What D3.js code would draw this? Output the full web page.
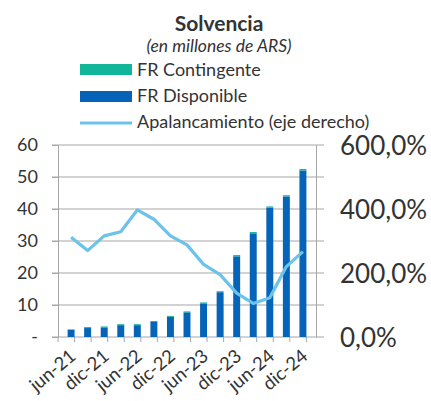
<!DOCTYPE html>
<html>
<head>
<meta charset="utf-8">
<script src="https://cdn.jsdelivr.net/npm/d3@7"></script>
<style>
  body { margin: 0; background: #fff; }
  text { font-family: Lato, "Open Sans", sans-serif; fill: #333; }
</style>
</head>
<body>
<div class="chart"></div>
<script>
// data
var periods = ["jun-21","sep-21","dic-21","mar-22","jun-22","sep-22","dic-22","mar-23",
               "jun-23","sep-23","dic-23","mar-24","jun-24","sep-24","dic-24"];
var frDisponible = [2.2, 2.8, 3.0, 3.7, 3.7, 4.7, 6.3, 7.7, 10.5, 14.0, 25.2, 32.4, 40.4, 43.9, 52.0];
var frContingente = [0.2, 0.3, 0.3, 0.3, 0.3, 0.3, 0.3, 0.3, 0.3, 0.3, 0.4, 0.4, 0.4, 0.4, 0.5];
var apalancamiento = [312, 270, 316, 329, 397, 368, 316, 288, 227, 195, 137, 105, 123, 220, 267];
var leftTicks = [0, 10, 20, 30, 40, 50, 60];
var rightTicks = [0, 200, 400, 600];

var svgWidth = 431, svgHeight = 401;
var margin = { top: 145, left: 58, right: 115, bottom: 64 };
var width = svgWidth - margin.left - margin.right;
var height = svgHeight - margin.top - margin.bottom;

var svg = d3.select(".chart").append("svg")
  .attr("width", svgWidth)
  .attr("height", svgHeight);

var chartGroup = svg.append("g")
  .attr("transform", `translate(${margin.left}, ${margin.top})`);

var rows = periods.map(function(p, i) {
  return { period: p, disp: frDisponible[i], cont: frContingente[i], apal: apalancamiento[i] };
});

// scales
var xScale = d3.scaleBand().domain(periods).range([0, width]).padding(0.58);
var yLeft = d3.scaleLinear().domain([0, 60]).range([height, 0]);
var yRight = d3.scaleLinear().domain([0, 600]).range([height, 0]);

// gridlines
chartGroup.append("g").selectAll("line")
  .data(leftTicks.slice(1))
  .enter().append("line")
  .attr("x1", -6).attr("x2", width + 8)
  .attr("y1", d => yLeft(d)).attr("y2", d => yLeft(d))
  .attr("stroke", "#a6a6a6").attr("stroke-width", 1);

// left axis
var leftAxis = d3.axisLeft(yLeft).tickValues(leftTicks).tickSize(6)
  .tickFormat(d => d === 0 ? "-" : d);
var gl = chartGroup.append("g").call(leftAxis);
gl.select(".domain").attr("stroke", "#a6a6a6");
gl.selectAll(".tick line").attr("stroke", "#a6a6a6");
gl.selectAll(".tick text").attr("x", -20).style("font-size", "18px").attr("fill", "#333");

// right axis
var rightAxis = d3.axisRight(yRight).tickValues(rightTicks).tickSize(0)
  .tickFormat(d => d3.format(".1f")(d).replace(".", ",") + "%");
var gr = chartGroup.append("g").attr("transform", `translate(${width}, 0)`).call(rightAxis);
gr.select(".domain").attr("stroke", "#a6a6a6");
gr.selectAll(".tick text").attr("x", 24).attr("dy", "0.35em").style("font-size", "26px").attr("fill", "#333");

// bottom axis with ticks at category boundaries
var xAxis = chartGroup.append("g").attr("transform", `translate(0, ${height})`);
xAxis.append("line").attr("x1", -6).attr("x2", width + 8)
  .attr("stroke", "#a6a6a6");
xAxis.selectAll(".btick")
  .data(d3.range(periods.length + 1))
  .enter().append("line")
  .attr("x1", i => i * xScale.step()).attr("x2", i => i * xScale.step())
  .attr("y1", 0).attr("y2", 5)
  .attr("stroke", "#a6a6a6");
xAxis.selectAll(".xlabel")
  .data(periods.filter((p, i) => i % 2 === 0))
  .enter().append("text")
  .attr("text-anchor", "end")
  .attr("transform", d => `translate(${xScale(d) + xScale.bandwidth() / 2 + 6}, 21) rotate(-40)`)
  .style("font-size", "18.5px")
  .text(d => d);

// bars
chartGroup.selectAll(".disp")
  .data(rows).enter().append("rect")
  .attr("x", d => xScale(d.period))
  .attr("width", xScale.bandwidth())
  .attr("y", d => yLeft(d.disp))
  .attr("height", d => height - yLeft(d.disp))
  .attr("fill", "#0563b8");
chartGroup.selectAll(".cont")
  .data(rows).enter().append("rect")
  .attr("x", d => xScale(d.period))
  .attr("width", xScale.bandwidth())
  .attr("y", d => yLeft(d.disp + d.cont))
  .attr("height", d => yLeft(d.disp) - yLeft(d.disp + d.cont))
  .attr("fill", "#12b59a");

// line
var line = d3.line()
  .x(d => xScale(d.period) + xScale.bandwidth() / 2)
  .y(d => yRight(d.apal));
chartGroup.append("path").datum(rows)
  .attr("d", line)
  .attr("fill", "none")
  .attr("stroke", "#6cc3ea")
  .attr("stroke-width", 3.2)
  .attr("stroke-linejoin", "round");

// title
svg.append("text").attr("x", 219).attr("y", 31).attr("text-anchor", "middle")
  .style("font-size", "21px").style("font-weight", "bold").text("Solvencia");
svg.append("text").attr("x", 219).attr("y", 52).attr("text-anchor", "middle")
  .style("font-size", "17.5px").style("font-style", "italic").text("(en millones de ARS)");

// legend
var legend = svg.append("g").attr("transform", "translate(80, 0)");
legend.append("rect").attr("x", 0).attr("y", 64).attr("width", 52).attr("height", 11).attr("fill", "#12b59a");
legend.append("text").attr("x", 57).attr("y", 76).style("font-size", "18px").text("FR Contingente");
legend.append("rect").attr("x", 0).attr("y", 91).attr("width", 52).attr("height", 11).attr("fill", "#0563b8");
legend.append("text").attr("x", 57).attr("y", 102).style("font-size", "18px").text("FR Disponible");
legend.append("line").attr("x1", 0).attr("x2", 52).attr("y1", 123).attr("y2", 123)
  .attr("stroke", "#6cc3ea").attr("stroke-width", 3.2);
legend.append("text").attr("x", 57).attr("y", 128).style("font-size", "18px").text("Apalancamiento (eje derecho)");
</script>
</body>
</html>
